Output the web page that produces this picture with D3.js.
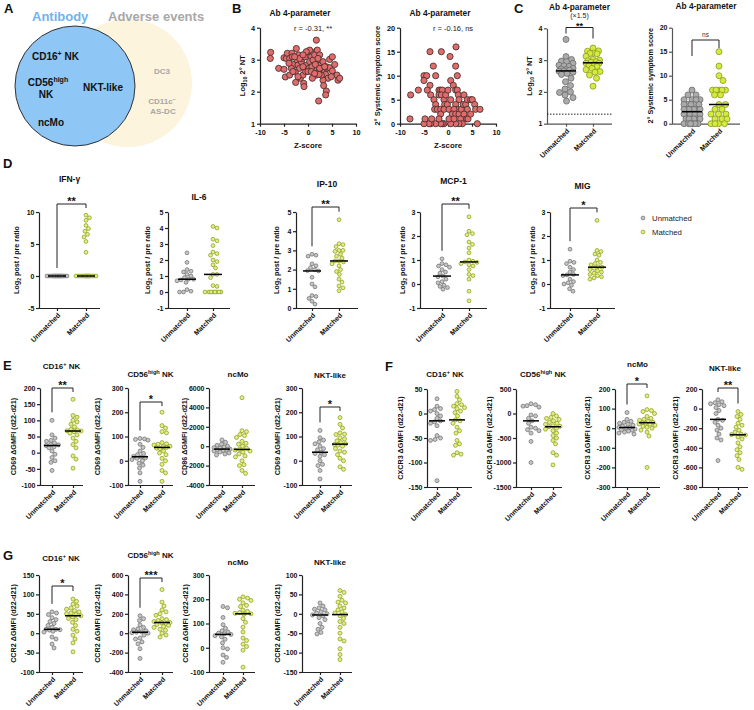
<!DOCTYPE html>
<html><head><meta charset="utf-8">
<script src="https://cdn.jsdelivr.net/npm/d3@7"></script>
<style>body{margin:0;background:#fff} svg{display:block}</style>
</head><body><svg id="fig" width="754" height="710"></svg>
<script>
// ---------------- DATA ----------------
const groups = ["Unmatched", "Matched"];

// B: Z-score vs log10 2° NT
const bZ1 = [-7.78,-7.85,-6.11,-5.0,-4.51,-5.0,-4.72,-3.82,-4.31,-3.33,-3.82,-2.43,-3.26,-2.92,-3.47,-2.64,-2.29,-1.94,-2.08,-1.74,-1.39,-1.6,-1.04,-2.57,-0.9,-0.83,-1.18,-0.69,-0.35,-0.49,0,0.35,0.69,0.35,0.21,0,1.04,1.74,1.39,1.74,1.94,2.08,2.22,2.43,2.57,2.78,1.74,0.9,3.13,3.26,3.47,3.68,3.96,4.17,3.82,4.51,3.13,3.26,3.82,3.68,2.22,4.51,5.07,5.56,5.07,6.04,6.25,6.6,1.25,0.83,-1.74,-2.78,-1.04,1.53,2.43,2.78,4.86,-3.96,-2.08,0.69,2.08,-0.35,-1.04,-3.13,3.47,2.29,1.39];
const bNT = [3.23,3.04,2.73,3.06,3.04,2.70,2.46,2.52,3.20,3.20,3.04,3.35,3.09,2.85,2.73,2.62,2.99,3.15,2.83,2.73,2.94,2.42,2.52,2.29,2.26,2.16,3.04,3.09,2.83,2.63,3.25,3.30,3.09,2.94,2.73,2.63,2.99,3.27,3.15,3.61,3.30,2.89,2.63,3.15,2.83,2.73,2.52,2.42,2.94,2.68,2.63,2.54,2.73,2.42,2.78,2.75,2.36,2.19,2.02,1.90,1.71,3.01,3.09,2.85,2.65,2.52,2.36,2.42,2.73,2.78,3.04,3.09,2.78,2.85,2.73,2.52,2.47,2.89,2.47,2.63,3.04,3.25,3.15,2.63,2.78,2.54,2.57];
// B: Z-score vs 2° systemic symptom score
const bZ2 = [-7.78,-7.92,-3.75,-1.39,-3.06,-5.0,-4.44,-5.0,-3.75,-2.57,-6.18,-4.31,-3.61,-1.88,-1.53,-1.18,-1.88,-1.39,-2.92,-2.57,-0.83,-0.69,-2.78,-2.22,-1.53,-1.53,-0.83,-0.14,0.21,0.56,-0.49,0,0.42,1.67,1.6,1.94,0.56,1.11,1.6,1.94,2.15,2.29,1.6,1.94,1.25,0.9,1.6,2.29,2.78,3.19,2.64,3.33,3.68,4.03,4.72,5.07,5.56,5.76,6.67,4.03,3.33,3.89,4.17,2.99,2.29,1.6,0.56,-0.83,-1.18,-1.53,-2.57,-3.61,-3.96,-5.0,-4.79,-3.4,-1.88,0.21,1.25,6.11,4.72];
const bScore = [6,1,15,15,12,10,10,9,8,10,7,7,6,7,7,7,6,6,5,4,5,4,3,3,3,2,3,4,3,5,6,7,14,16,12,10,9,8,7,7,6,5,4,3,3,2,2,2,3,4,1,6,4,5,5,5,4,3,3,3,2,1,1,0,0,0,0,0,0,0,0,0,0,0,1,1,1,1,1,0,2];

// C
const cNT_unm = [3.65,3.11,3.02,2.97,2.95,2.9,2.84,2.82,2.8,2.74,2.72,2.7,2.68,2.66,2.65,2.62,2.58,2.55,2.43,2.32,2.2,2.09,2.0,1.98,1.9,1.82,1.71];
const cNT_mat = [3.38,3.29,3.28,3.22,3.21,3.2,3.12,3.02,3.0,2.98,2.95,2.93,2.9,2.9,2.86,2.83,2.8,2.74,2.7,2.64,2.62,2.53,2.43,2.18];
const cScore_unm = [0,0,0,0,0,0,1,1,1,1,1,1,2,2,2,2,2,2,2,3,3,3,3,3,3,3,4,4,4,4,4,5,5,5,5,6,6,7];
const cScore_mat = [15,12,10,9,7,7,7,7,7,6,6,4,4,3,3,2,2,2,1,1,1,0,0,0,0];
const cLOD = 1.3;

// D cytokines (log2 post/pre)
const ifng_unm = [0,0,0,0,0,0,0,0,0,0,0,0,0,0,0,0];
const ifng_mat = [9.5,9.1,8.7,7.9,7.4,7.0,6.5,6.1,5.4,3.7,0,0,0,0,0,0,0,0,0,0,0,0,0,0];
const il6_unm = [2.45,1.85,1.4,1.3,1.25,1.1,1.0,0.9,0.8,0.8,0.75,0.7,0.6,0.15,0.05,0,0];
const il6_mat = [4.1,4.0,3.3,3.2,2.9,2.5,2.4,2.3,2.0,1.9,1.7,1.5,1.1,1.1,0.9,0.4,0.35,0,0,0,0,0,0,0,0];
const ip10_unm = [2.8,2.75,2.7,2.3,2.2,2.1,2.0,1.95,1.93,1.6,1.25,1.1,0.65,0.6,0.5,0.35,0.2];
const ip10_mat = [4.6,3.35,3.3,3.2,3.0,3.0,2.95,2.8,2.7,2.6,2.45,2.45,2.4,2.3,2.2,2.0,1.9,1.75,1.5,1.35,1.15,1.05,0.9];
const mcp1_unm = [1.05,0.85,0.8,0.75,0.7,0.6,0.5,0.45,0.33,0.3,0.2,0.1,0.05,-0.05,-0.1,-0.15,-0.22];
const mcp1_mat = [2.8,2.2,2.1,2.05,1.75,1.65,1.5,1.3,1.0,0.95,0.92,0.9,0.85,0.8,0.75,0.6,0.4,0.35,0.2,-0.3,-0.7];
const mig_unm = [1.45,0.95,0.9,0.85,0.7,0.6,0.5,0.4,0.38,0.35,0.2,0.1,0.05,0,-0.05,-0.2,-0.3];
const mig_mat = [2.65,1.4,1.35,1.25,1.2,1.0,0.9,0.85,0.8,0.72,0.7,0.65,0.6,0.55,0.5,0.45,0.4,0.35,0.3,0.25,0.2];

// E activation markers (ΔGMFI d22-d21)
const cd69_cd16_unm = [100,55,45,38,35,30,25,24,22,18,15,5,-5,-15,-25,-30,-55];
const cd69_cd16_mat = [165,115,110,100,95,88,80,72,70,68,67,65,60,55,45,35,25,15,-10,-20,-48];
const cd69_cd56_unm = [92,90,88,85,68,55,40,30,25,18,15,12,10,5,0,-10,-18,-30,-50,-85];
const cd69_cd56_mat = [200,145,135,120,115,75,70,68,65,60,58,55,52,50,40,32,25,10,0,-15,-40,-50,-85];
const cd86_ncmo_unm = [650,400,200,100,0,-100,-150,-200,-300,-350,-400,-450,-500,-600,-700,-800,-900];
const cd86_ncmo_mat = [5000,1600,1500,1200,1100,900,500,300,200,0,-200,-330,-400,-500,-600,-800,-1000,-1100,-1500,-1900,-2000,-2500,-2800];
const cd69_nkt_unm = [125,95,85,78,70,60,50,45,35,30,25,18,0,-15,-20,-40,-75];
const cd69_nkt_mat = [178,150,135,115,110,108,95,90,82,75,70,67,65,60,50,40,35,25,10,0,-25,-35];

// F CXCR3
const cxcr3_cd16_unm = [30,15,10,8,5,0,-5,-10,-15,-17,-20,-25,-45,-50,-53,-55,-137];
const cxcr3_cd16_mat = [45,35,28,20,18,15,12,10,5,2,-5,-13,-15,-20,-28,-35,-40,-55,-62,-65,-80,-83,-85];
const cxcr3_cd56_unm = [200,180,160,150,130,-30,-50,-100,-150,-200,-280,-300,-330,-350,-400,-570,-1000];
const cxcr3_cd56_mat = [0,-50,-80,-100,-120,-150,-180,-200,-220,-250,-260,-270,-300,-320,-350,-400,-450,-500,-550,-620,-800,-850,-1050];
const cxcr3_ncmo_unm = [80,45,35,30,25,20,15,10,5,2,0,-5,-8,-10,-15,-20,-25,-30];
const cxcr3_ncmo_mat = [165,95,90,85,75,60,50,45,40,35,30,28,25,22,20,15,10,5,0,-10,-20,-40,-200];
const cxcr3_nkt_unm = [90,70,60,50,40,30,10,-20,-50,-110,-120,-140,-170,-200,-220,-260,-300,-320,-530];
const cxcr3_nkt_mat = [-30,-60,-80,-110,-150,-170,-190,-220,-240,-260,-265,-270,-290,-310,-350,-390,-420,-450,-480,-520,-600,-620];

// G CCR2
const ccr2_cd16_unm = [55,52,48,40,35,30,25,20,15,10,10,9,8,5,3,-10,-15,-28,-38];
const ccr2_cd16_mat = [88,82,75,70,65,62,58,55,52,50,48,45,42,38,35,28,20,10,5,-5,-15,-25,-48];
const ccr2_cd56_unm = [180,150,130,85,60,45,35,25,15,10,5,0,-20,-50,-60,-90,-110,-160,-260];
const ccr2_cd56_mat = [450,320,280,240,220,200,185,150,140,130,120,110,105,100,90,80,70,60,40,30,0,-20,-40];
const ccr2_ncmo_unm = [170,165,125,95,80,70,65,60,58,55,50,45,35,20,0,-5,-30,-40,-60];
const ccr2_ncmo_mat = [210,205,200,195,185,175,170,155,150,145,142,140,138,120,105,85,65,40,30,15,5,-10,-80];
const ccr2_nkt_unm = [28,20,15,12,10,5,2,0,-3,-5,-10,-15,-25,-35,-40,-48,-52];
const ccr2_nkt_mat = [60,55,45,35,30,28,20,15,10,5,2,-2,-5,-12,-20,-25,-35,-50,-65,-70,-90,-105,-118];

// tick labels
const ticksZ = [-10,-5,0,5,10];
const ticksNT = [1,2,3,4];
const ticksScore = [0,5,10,15,20];
const ticksIFN = [-5,0,5,10];
const ticksIL6 = [-1,0,1,2,3,4,5];
const ticksIP10 = [0,1,2,3,4,5];
const ticksMCP = [-1,0,1,2,3];
const ticksE1 = [-100,-50,0,50,100,150,200];
const ticksE2 = [-100,0,100,200,300];
const ticksE3 = [-4000,-2000,0,2000,4000,6000];
const ticksF1 = [-150,-100,-50,0,50];
const ticksF2 = [-1500,-1000,-500,0,500];
const ticksF3 = [-300,-200,-100,0,100,200];
const ticksF4 = [-800,-600,-400,-200,0,200];
const ticksG1 = [-100,-50,0,50,100,150];
const ticksG2 = [-400,-200,0,200,400,600];
const ticksG3 = [-100,0,100,200,300];
const ticksG4 = [-150,-100,-50,0,50,100];

// ---------------- DRAWING ----------------
const svg = d3.select("#fig");
const FONT = '"Liberation Sans", Arial, Helvetica, sans-serif';
svg.append("rect").attr("width", 754).attr("height", 710).attr("fill", "#fff");

function addParts(t, parts, size) {
  let shift = 0;
  parts.forEach(([s, m]) => {
    const want = m === "sub" ? size * 0.32 : m === "sup" ? -size * 0.4 : 0;
    const sp = t.append("tspan").text(s);
    if (want - shift !== 0) sp.attr("dy", want - shift);
    if (m) sp.attr("font-size", size * 0.7);
    shift = want;
  });
}
function T(x, y, s, o = {}) {
  const size = o.size || 8;
  const t = svg.append("text").attr("x", x).attr("y", y)
    .attr("font-family", FONT).attr("font-size", size)
    .attr("font-weight", o.bold === false ? "normal" : "bold")
    .attr("fill", o.fill || "#111")
    .attr("text-anchor", o.anchor || "start");
  if (o.rotate) t.attr("transform", `rotate(${o.rotate},${x},${y})`);
  addParts(t, typeof s === "string" ? [[s]] : s, size);
  return t;
}

// Panel letters
T(4, 13, "A", {size: 13});
T(232, 13, "B", {size: 13});
T(514, 13, "C", {size: 13});
T(3, 168, "D", {size: 13});
T(3, 370, "E", {size: 13});
T(385, 371, "F", {size: 13});
T(3, 560, "G", {size: 13});

// ---- Panel A: Venn ----
svg.append("circle").attr("cx", 128).attr("cy", 83).attr("r", 64).attr("fill", "#fcf4dc");
svg.append("circle").attr("cx", 75).attr("cy", 86).attr("r", 60).attr("fill", "#8ec6f6")
  .attr("stroke", "#333").attr("stroke-width", 1);
T(32, 21, "Antibody", {size: 13, fill: "#6fb3ee"});
T(108, 21, "Adverse events", {size: 13, fill: "#a8a8a8"});
T(32, 60, [["CD16"], ["+", "sup"], [" NK"]], {size: 10});
T(48, 86, [["CD56"], ["high", "sup"]], {size: 10, anchor: "middle"});
T(46, 98, "NK", {size: 10, anchor: "middle"});
T(103, 91, "NKT-like", {size: 10, anchor: "middle"});
T(51, 126, "ncMo", {size: 10, anchor: "middle"});
T(162, 74, "DC3", {size: 8, fill: "#a6a6a6", anchor: "middle"});
T(162, 104, [["CD11c"], ["\u2212", "sup"]], {size: 8, fill: "#a6a6a6", anchor: "middle"});
T(163, 114, "AS-DC", {size: 8, fill: "#a6a6a6", anchor: "middle"});

// ---- generic axis styling ----
function styleAxis(a, col, tsize) {
  a.selectAll("path,line").attr("stroke", col).attr("stroke-width", 1.2);
  a.selectAll("text").attr("font-family", FONT).attr("font-weight", "bold")
    .attr("font-size", tsize).attr("fill", "#111");
}

// ---- Panel B scatters ----
function scatter(c, xs, ys) {
  const x = d3.scaleLinear().domain([-10, 10]).range([c.left, c.right]);
  const y = d3.scaleLinear().domain(c.domain).range([c.bot, c.top]);
  const ya = svg.append("g").attr("transform", `translate(${c.left},0)`)
    .call(d3.axisLeft(y).tickValues(c.ticks).tickSize(3).tickSizeOuter(0).tickFormat(d => String(d)));
  const xa = svg.append("g").attr("transform", `translate(0,${c.bot})`)
    .call(d3.axisBottom(x).tickValues(ticksZ).tickSize(3).tickSizeOuter(0).tickFormat(d => String(d)));
  styleAxis(ya, "#222", 7.3); styleAxis(xa, "#222", 7.3);
  ya.selectAll(".tick text").attr("x", -5);
  xa.selectAll(".tick text").attr("y", 6);
  T((c.left + c.right) / 2 - 8, 16, "Ab 4-parameter", {size: 8.3, anchor: "middle"});
  T((c.left + c.right) / 2 + 5, 31, c.rtext, {size: 7.5, bold: false, anchor: "middle", fill: "#222"});
  T((c.left + c.right) / 2, 148, "Z-score", {size: 7.8, anchor: "middle"});
  T(c.ylabX + 2.6, (c.top + c.bot) / 2, c.ylab, {size: 7.5, anchor: "middle", rotate: -90});
  svg.append("g").selectAll("circle").data(xs.map((v, i) => [v, ys[i]])).join("circle")
    .attr("cx", d => x(d[0])).attr("cy", d => y(d[1])).attr("r", 3.1)
    .attr("fill", "#e06c6c").attr("stroke", "#3a2a2a").attr("stroke-width", 0.8);
}
scatter({left: 260, right: 356, top: 27.7, bot: 123.7, domain: [1, 4], ticks: ticksNT,
  rtext: "r = -0.31, **", ylabX: 242, ylab: [["Log"], ["10", "sub"], [" 2\u00b0 NT"]]}, bZ1, bNT);
scatter({left: 400, right: 496, top: 27.7, bot: 123.7, domain: [0, 20], ticks: ticksScore,
  rtext: "r = -0.16, ns", ylabX: 377, ylab: "2\u00b0 Systemic symptom score"}, bZ2, bScore);

// ---- Dot plots ----
function swarm(vals, y, d, W) {
  const pts = vals.map(v => ({v, py: y(v)})).sort((a, b) => a.py - b.py);
  const placed = [];
  const cands = [0];
  for (let k = 0.5; k <= W + 1e-9; k += 0.5) cands.push(k, -k);
  pts.forEach(p => {
    let best = 0, bestScore = -1;
    for (const c of cands) {
      let m = Infinity;
      for (const q of placed) {
        const dy = q.py - p.py;
        if (Math.abs(dy) < d) m = Math.min(m, Math.hypot(q.dx - c, dy));
      }
      if (m >= d) { best = c; break; }
      if (m > bestScore) { bestScore = m; best = c; }
    }
    p.dx = best; placed.push(p);
  });
  return pts;
}

const STY = {
  big: {g: ["#ababab", "#6a6a6a"], m: ["#d5ea3f", "#8a9a22"]},
  small: {g: ["#c6c6c6", "#6b6b6b"], m: ["#e3f07c", "#87961f"]}
};

function dotPlot(c, unm, mat) {
  const r = c.r || 2.0, W = c.W || 8, mhw = c.mhw || 8;
  const sty = c.big ? STY.big : STY.small;
  const y = d3.scaleLinear().domain([d3.min(c.ticks), d3.max(c.ticks)]).range([c.bot, c.top]);
  const x = d3.scalePoint().domain(groups).range([c.xU, c.xM]);
  const g = svg.append("g");
  const ya = g.append("g").attr("transform", `translate(${c.ax},0)`)
    .call(d3.axisLeft(y).tickValues(c.ticks).tickSize(3).tickSizeOuter(0).tickFormat(d => String(d)));
  const xa = g.append("g").attr("transform", `translate(0,${c.bot})`)
    .call(d3.axisBottom(x).tickSize(3).tickSizeOuter(0));
  xa.select(".domain").attr("d", `M${c.ax},0.5H${c.right}`);
  xa.selectAll(".tick text").remove();
  const acol = c.big ? "#555" : "#222";
  styleAxis(ya, acol, 7); styleAxis(xa, acol, 7);
  ya.selectAll(".tick text").attr("x", -4.5);
  groups.forEach(gr => {
    g.append("text").attr("transform", `translate(${x(gr) + 2},${c.bot + 6}) rotate(-45)`)
      .attr("text-anchor", "end").attr("dy", "0.35em")
      .attr("font-family", FONT).attr("font-weight", "bold").attr("font-size", 7).attr("fill", "#111")
      .text(gr);
  });
  // titles
  const tx = c.titleX != null ? c.titleX : (c.ax + c.right) / 2;
  const ts = c.titleSize || 8;
  T(tx, c.titleY + ts * 0.35, c.title, {size: ts, anchor: "middle"});
  if (c.sub) T(tx, c.sub[1] + 2.5, c.sub[0], {size: 7, anchor: "middle", bold: false, fill: "#222"});
  T(c.ylabX + 2.6, (c.top + c.bot) / 2, c.ylab, {size: 7.2, anchor: "middle", rotate: -90});
  // LOD line
  if (c.lod != null) {
    g.append("line").attr("x1", c.ax).attr("x2", c.right).attr("y1", y(c.lod)).attr("y2", y(c.lod))
      .attr("stroke", "#222").attr("stroke-width", 1).attr("stroke-dasharray", "1.5,1.5");
  }
  // bracket
  if (c.sig) {
    const legs = c.legs || [
      Math.max(4, y(d3.max(unm)) - 8 - c.brY),
      Math.max(4, y(d3.max(mat)) - 8 - c.brY)];
    g.append("path").attr("d", `M${c.xU},${c.brY + legs[0]}V${c.brY}H${c.xM}V${c.brY + legs[1]}`)
      .attr("fill", "none").attr("stroke", "#222").attr("stroke-width", 1);
    if (c.sig === "ns") T((c.xU + c.xM) / 2, c.brY - 3, "ns", {size: 6.5, bold: false, anchor: "middle", fill: "#333"});
    else T((c.xU + c.xM) / 2, c.brY + (c.starSize || 11) * 0.12, c.sig, {size: c.starSize || 11, anchor: "middle"});
  }
  // dots
  [[unm, "Unmatched", sty.g], [mat, "Matched", sty.m]].forEach(([vals, gr, col]) => {
    const pts = swarm(vals, y, 2 * r + 0.2, W);
    g.append("g").selectAll("circle").data(pts).join("circle")
      .attr("cx", d => x(gr) + d.dx).attr("cy", d => d.py).attr("r", r)
      .attr("fill", col[0]).attr("stroke", col[1]).attr("stroke-width", c.big ? 0.8 : 0.7);
    const med = d3.median(vals);
    g.append("line").attr("x1", x(gr) - mhw).attr("x2", x(gr) + mhw)
      .attr("y1", y(med)).attr("y2", y(med)).attr("stroke", "#000").attr("stroke-width", 1.5);
  });
}

// C
dotPlot({ax: 547, right: 612, top: 28.3, bot: 123.7, ticks: ticksNT, xU: 566, xM: 593,
  title: "Ab 4-parameter", titleY: 7, titleSize: 8.3, sub: ["(\u00d71.5)", 15.5], sig: "**", brY: 27.5, starSize: 9,
  ylabX: 529, ylab: [["Log"], ["10", "sub"], [" 2\u00b0 NT"]], r: 3, W: 7, mhw: 10, big: true, lod: cLOD, legs: [6, 11]},
  cNT_unm, cNT_mat);
dotPlot({ax: 672, right: 740, top: 27.7, bot: 123.7, ticks: ticksScore, xU: 692, xM: 719,
  title: "Ab 4-parameter", titleY: 6, titleSize: 8.3, sig: "ns", brY: 40, legs: [16, 8],
  ylabX: 650, ylab: "2\u00b0 Systemic symptom score", r: 3, W: 8, mhw: 10, big: true},
  cScore_unm, cScore_mat);

// D
const dLab = [["Log"], ["2", "sub"], [" post / pre ratio"]];
dotPlot({ax: 39, right: 100, top: 212, bot: 308, ticks: ticksIFN, xU: 57, xM: 86, title: "IFN-\u03b3", titleY: 179,
  titleSize: 8.5, sig: "**", brY: 204, ylabX: 16, ylab: dLab, r: 1.9, W: 10, mhw: 9}, ifng_unm, ifng_mat);
dotPlot({ax: 168, right: 230, top: 212, bot: 308, ticks: ticksIL6, xU: 187, xM: 213, title: "IL-6", titleY: 197,
  titleSize: 8.5, ylabX: 147, ylab: dLab, r: 1.9, W: 10, mhw: 9}, il6_unm, il6_mat);
dotPlot({ax: 296, right: 358, top: 212, bot: 308, ticks: ticksIP10, xU: 312, xM: 339, title: "IP-10", titleY: 184,
  titleSize: 8.5, sig: "**", brY: 207, ylabX: 276, ylab: dLab, r: 1.9, W: 10, mhw: 9}, ip10_unm, ip10_mat);
dotPlot({ax: 420, right: 487, top: 212, bot: 308, ticks: ticksMCP, xU: 442, xM: 469, title: "MCP-1", titleY: 181,
  titleSize: 8.5, sig: "**", brY: 204, ylabX: 402, ylab: dLab, r: 1.9, W: 10, mhw: 9}, mcp1_unm, mcp1_mat);
dotPlot({ax: 550, right: 615, top: 212, bot: 308, ticks: ticksMCP, xU: 570, xM: 597, title: "MIG", titleY: 186,
  titleSize: 8.5, sig: "*", brY: 208, ylabX: 532, ylab: dLab, r: 1.9, W: 10, mhw: 9}, mig_unm, mig_mat);

// D legend
[["Unmatched", STY.small.g, 218], ["Matched", STY.small.m, 232]].forEach(([lab, col, yy]) => {
  svg.append("circle").attr("cx", 643).attr("cy", yy).attr("r", 1.9)
    .attr("fill", col[0]).attr("stroke", col[1]).attr("stroke-width", 0.7);
  T(652, yy + 2.7, lab, {size: 7.8, bold: false, fill: "#222"});
});

// E
const NK16 = [["CD16"], ["+", "sup"], [" NK"]];
const NK56 = [["CD56"], ["high", "sup"], [" NK"]];
const eLab = "CD69 \u0394GMFI (d22-d21)";
dotPlot({ax: 40, right: 83, top: 388, bot: 485, ticks: ticksE1, xU: 52, xM: 73, title: NK16, titleY: 366,
  sig: "**", brY: 388, ylabX: 13, ylab: eLab}, cd69_cd16_unm, cd69_cd16_mat);
dotPlot({ax: 128, right: 173, top: 388, bot: 485, ticks: ticksE2, xU: 140, xM: 162, title: NK56, titleY: 374,
  sig: "*", brY: 402, ylabX: 97, ylab: eLab}, cd69_cd56_unm, cd69_cd56_mat);
dotPlot({ax: 209, right: 255, top: 388, bot: 485, ticks: ticksE3, xU: 222, xM: 242, title: "ncMo", titleY: 374,
  titleX: 238, ylabX: 184, ylab: "CD86 \u0394GMFI (d22-d21)"}, cd86_ncmo_unm, cd86_ncmo_mat);
dotPlot({ax: 302, right: 352, top: 388, bot: 485, ticks: ticksE2, xU: 320, xM: 340, title: "NKT-like", titleY: 375,
  titleX: 330, sig: "*", brY: 407, ylabX: 277, ylab: eLab}, cd69_nkt_unm, cd69_nkt_mat);

// F
const fLab = "CXCR3 \u0394GMFI (d22-d21)";
dotPlot({ax: 427, right: 472, top: 389, bot: 487, ticks: ticksF1, xU: 437, xM: 457, title: NK16, titleY: 374,
  titleX: 445, ylabX: 400, ylab: fLab}, cxcr3_cd16_unm, cxcr3_cd16_mat);
dotPlot({ax: 516, right: 562, top: 389, bot: 487, ticks: ticksF2, xU: 531, xM: 553, title: NK56, titleY: 374,
  titleX: 543, ylabX: 489, ylab: fLab}, cxcr3_cd56_unm, cxcr3_cd56_mat);
dotPlot({ax: 615, right: 660, top: 389, bot: 487, ticks: ticksF3, xU: 627, xM: 647, title: "ncMo", titleY: 364,
  sig: "*", brY: 384, ylabX: 587, ylab: fLab}, cxcr3_ncmo_unm, cxcr3_ncmo_mat);
dotPlot({ax: 702, right: 748, top: 389, bot: 487, ticks: ticksF4, xU: 718, xM: 738, title: "NKT-like", titleY: 368,
  sig: "**", brY: 388, ylabX: 675, ylab: fLab}, cxcr3_nkt_unm, cxcr3_nkt_mat);

// G
const gLab = "CCR2 \u0394GMFI (d22-d21)";
dotPlot({ax: 39, right: 83, top: 575, bot: 672, ticks: ticksG1, xU: 52, xM: 73, title: NK16, titleY: 558,
  sig: "*", brY: 586, ylabX: 13, ylab: gLab}, ccr2_cd16_unm, ccr2_cd16_mat);
dotPlot({ax: 128, right: 173, top: 575, bot: 672, ticks: ticksG2, xU: 140, xM: 162, title: NK56, titleY: 555,
  sig: "***", brY: 578, ylabX: 97, ylab: gLab}, ccr2_cd56_unm, ccr2_cd56_mat);
dotPlot({ax: 209, right: 255, top: 575, bot: 672, ticks: ticksG3, xU: 223, xM: 243, title: "ncMo", titleY: 562,
  titleX: 238, ylabX: 185, ylab: gLab}, ccr2_ncmo_unm, ccr2_ncmo_mat);
dotPlot({ax: 302, right: 352, top: 575, bot: 672, ticks: ticksG4, xU: 320, xM: 340, title: "NKT-like", titleY: 562,
  titleX: 330, ylabX: 277, ylab: gLab}, ccr2_nkt_unm, ccr2_nkt_mat);
</script>
</body></html>
